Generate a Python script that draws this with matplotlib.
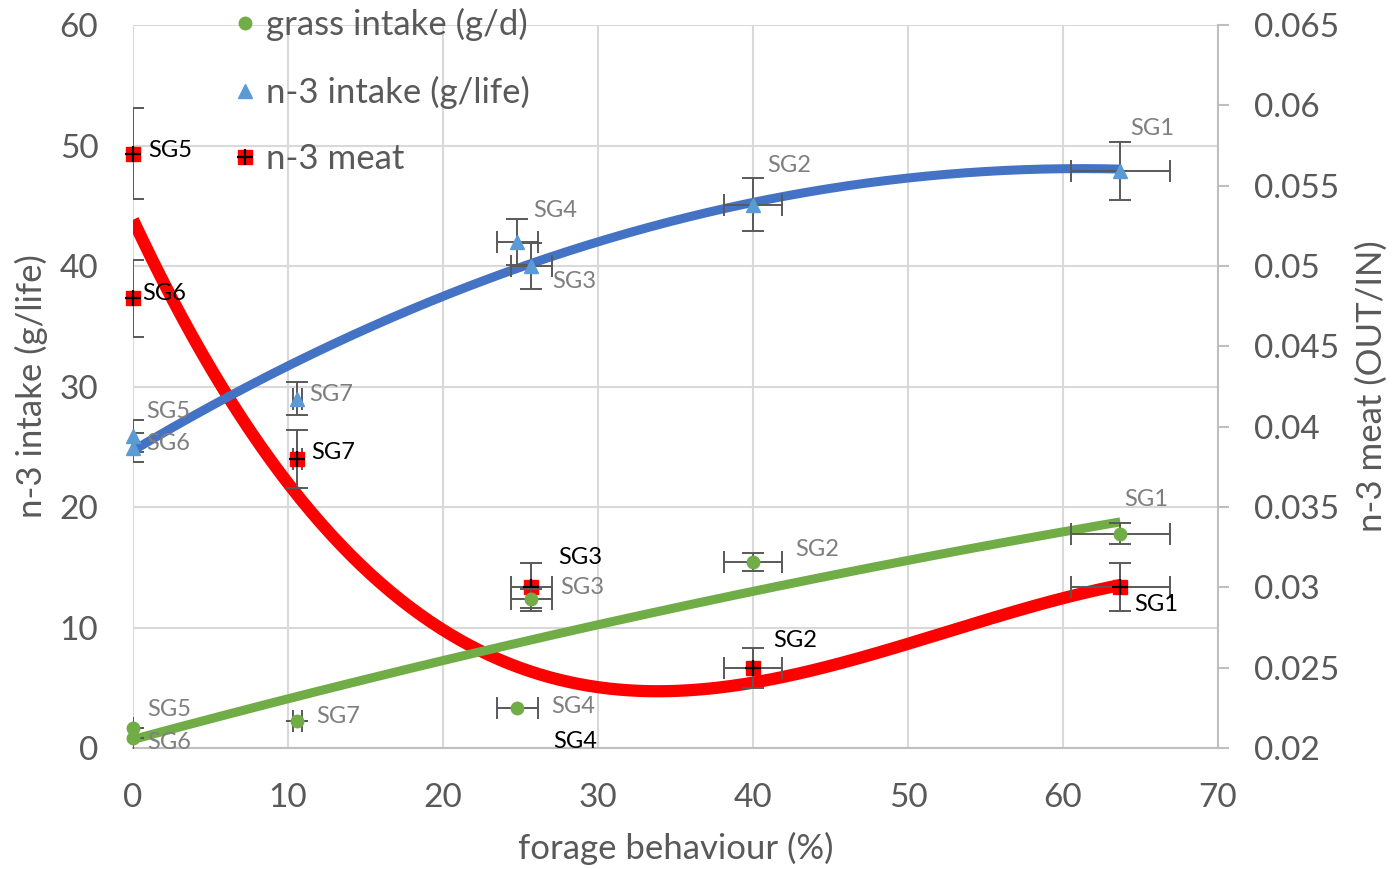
import numpy as np
import matplotlib
matplotlib.use("Agg")
import matplotlib.pyplot as plt
from matplotlib.lines import Line2D
from matplotlib.patches import Rectangle

# ---------------- data ----------------
groups = ['SG1', 'SG2', 'SG3', 'SG4', 'SG5', 'SG6', 'SG7']
forage = [63.7, 40.0, 25.7, 24.8, 0.0, 0.0, 10.6]
forage_err = [3.2, 1.9, 1.3, 1.3, 0.0, 0.0, 0.3]

grass = [17.8, 15.4, 12.4, 3.3, 1.7, 0.8, 2.2]
grass_err = [0.9, 0.75, 0.8, 0.0, 0.0, 0.0, 0.0]

intake = [47.9, 45.1, 40.0, 42.0, 25.9, 24.9, 29.0]
intake_err = [2.4, 2.2, 1.95, 1.9, 1.3, 1.2, 1.4]

meat = [0.0300, 0.0250, 0.0300, 0.0175, 0.0570, 0.0480, 0.0380]
meat_err = [0.0015, 0.00125, 0.0015, 0.0010, 0.00285, 0.0024, 0.0018]

# grass trendline
grass_trend_x = [0, 10, 20, 28.2, 36.6, 40, 50, 60, 63.7]
grass_trend_y = [0.66, 3.93, 7.5, 10.07, 11.95, 12.7, 15.5, 17.8, 19.0]

x_ticks = [0, 10, 20, 30, 40, 50, 60, 70]
left_ticks = [0, 10, 20, 30, 40, 50, 60]
right_ticks = [0.02, 0.025, 0.03, 0.035, 0.04, 0.045, 0.05, 0.055, 0.06, 0.065]
right_ticklabels = ['0.02', '0.025', '0.03', '0.035', '0.04', '0.045', '0.05', '0.055', '0.06', '0.065']

# ---------------- layout / style ----------------
plt.rcParams['font.family'] = ['Lato', 'DejaVu Sans']
GREEN = '#70AD47'
BLUE_LINE = '#4472C4'
BLUE_MK = '#5B9BD5'
RED = '#FF0000'
TXT = '#595959'
LBL_GRAY = '#7F7F7F'
GRID = '#D9D9D9'
ERR = '#595959'

# label offsets (pixels) relative to each point
grass_off = [(26, 34), (64, 13), (51, 11), (56, 2), (36, 18), (36, -4), (41, 5)]
intake_off = [(32, 42), (36, 39), (43, -15), (38, 31), (35, 24), (35, 4), (34, 4)]
meat_off = [(36, -17), (42, 27), (49, 30), (58, 47), (37, 3), (31, 5), (36, 6)]

fig = plt.figure(figsize=(13.92, 8.69), dpi=100)
ax = fig.add_axes([133/1392, 1-748/869, (1218-133)/1392, (748-25)/869])
ax2 = ax.twinx()
ax3 = ax.twinx()

ax.set_xlim(0, 70)
ax.set_ylim(0, 60)
ax2.set_ylim(0.02, 0.065)
ax3.set_ylim(0, 60)

# grid on the bottom axes
ax.set_xticks(x_ticks)
ax.set_yticks(left_ticks)
ax.grid(True, color=GRID, linewidth=1.5)
ax.set_axisbelow(True)
for s in ['top', 'left', 'right']:
    ax.spines[s].set_visible(False)
ax.spines['bottom'].set_color('#BFBFBF')
ax.spines['bottom'].set_linewidth(1.5)
ax.tick_params(axis='both', length=0, labelsize=24, labelcolor=TXT)
ax.tick_params(axis='x', pad=25)
ax.tick_params(axis='y', pad=25)

ax2.set_yticks(right_ticks)
ax2.set_yticklabels(right_ticklabels)
for s in ['top', 'left', 'bottom']:
    ax2.spines[s].set_visible(False)
ax2.spines['right'].set_color('#BFBFBF')
ax2.spines['right'].set_linewidth(1.5)
ax2.tick_params(axis='y', length=8, width=1.5, color='#BFBFBF', labelsize=24,
                labelcolor=TXT, pad=18)

ax3.axis('off')

ax.set_xlabel('forage behaviour (%)', fontsize=25, color=TXT, labelpad=14)
ax.set_ylabel('n-3 intake (g/life)', fontsize=25, color=TXT, labelpad=8)
ax2.set_ylabel('n-3 meat (OUT/IN)', fontsize=25, color=TXT, labelpad=12)

# ---------------- trend lines ----------------
xs = np.linspace(0, max(forage), 300)
red_coef = np.polyfit(forage, meat, 3)
ax2.plot(xs, np.polyval(red_coef, xs), color=RED, linewidth=8.8, solid_capstyle='butt', zorder=2)

blue_coef = np.polyfit(forage, intake, 2)
ax3.plot(xs, np.polyval(blue_coef, xs), color=BLUE_LINE, linewidth=6.5, solid_capstyle='butt', zorder=2)
green_coef = np.polyfit(grass_trend_x, grass_trend_y, 2)
ax3.plot(xs, np.polyval(green_coef, xs), color=GREEN, linewidth=6.5, solid_capstyle='butt', zorder=2)

# ---------------- error bars + markers ----------------
ekw = dict(fmt='none', ecolor=ERR, elinewidth=1.4, capsize=8, capthick=1.4, zorder=3)
ax2.errorbar(forage, meat, xerr=forage_err, yerr=meat_err, **ekw)
clip2 = Rectangle((-0.05, 0), 1.1, 1, transform=ax2.transAxes, visible=False)
sq, = ax2.plot(forage, meat, 's', color=RED, markersize=10, zorder=4)
pl, = ax2.plot(forage, meat, '+', color='black', markersize=11, markeredgewidth=1.6, zorder=5)
sq.set_clip_path(clip2)
pl.set_clip_path(clip2)

ax3.errorbar(forage, intake, xerr=forage_err, yerr=intake_err, **ekw)
ax3.errorbar(forage, grass, xerr=forage_err, yerr=grass_err, **ekw)
ax3.plot(forage, intake, '^', color=BLUE_MK, markersize=10, markeredgecolor=BLUE_MK, zorder=4, clip_on=False)
ax3.plot(forage, grass, 'o', color=GREEN, markersize=9, zorder=4, clip_on=False)

# ---------------- data labels ----------------
for g, x, y, off in zip(groups, forage, grass, grass_off):
    ax3.annotate(g, (x, y), xytext=off, textcoords='offset pixels', ha='center', va='center',
                 fontsize=17, color=LBL_GRAY, annotation_clip=False, zorder=6)
for g, x, y, off in zip(groups, forage, intake, intake_off):
    ax3.annotate(g, (x, y), xytext=off, textcoords='offset pixels', ha='center', va='center',
                 fontsize=17, color=LBL_GRAY, annotation_clip=False, zorder=6)
for g, x, y, off in zip(groups, forage, meat, meat_off):
    ax3.annotate(g, (x, y), xycoords=ax2.transData, xytext=off, textcoords='offset pixels',
                 ha='center', va='center', fontsize=17, color='black', annotation_clip=False, zorder=6)

# ---------------- legend ----------------
h_grass = Line2D([], [], marker='o', color=GREEN, linestyle='none', markersize=9)
h_int = Line2D([], [], marker='^', color=BLUE_MK, linestyle='none', markersize=10)
h_sq = Line2D([], [], marker='s', color=RED, linestyle='none', markersize=10)
h_pl = Line2D([], [], marker='+', color='black', linestyle='none', markersize=11, markeredgewidth=1.6)
leg = fig.legend([h_grass, h_int, (h_sq, h_pl)],
                 ['grass intake (g/d)', 'n-3 intake (g/life)', 'n-3 meat'],
                 loc='upper left', bbox_to_anchor=(235/1392, 1-8/869), frameon=False,
                 fontsize=25, labelcolor=TXT, handlelength=0.55, handletextpad=0.35,
                 labelspacing=0.99, borderpad=0, borderaxespad=0)

fig.savefig('out.png', dpi=100)
